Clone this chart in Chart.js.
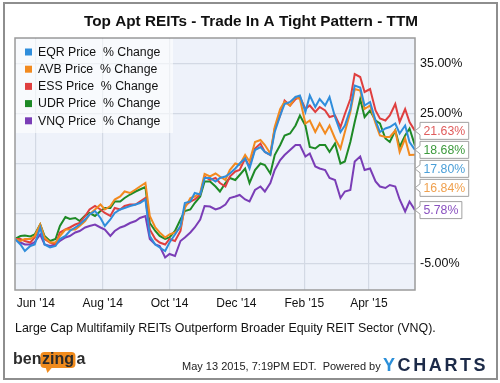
<!DOCTYPE html>
<html><head><meta charset="utf-8">
<script src="https://cdn.jsdelivr.net/npm/chart.js@4.4.1/dist/chart.umd.min.js"></script>
<style>html,body{margin:0;padding:0;background:#fff;}canvas{display:block;}</style>
</head><body>
<canvas id="c" width="500" height="383"></canvas>
<script>
// Days since 2014-05-13 (trailing twelve months)
const dayOffsets = [0,5,9,14,18,23,27,32,37,41,46,50,55,59,64,68,73,78,82,87,91,96,100,105,110,114,119,123,128,132,137,141,146,151,155,160,164,169,173,178,183,187,192,196,201,205,210,214,219,224,228,233,237,242,246,251,256,260,265,269,274,278,283,287,292,297,301,306,310,315,319,324,329,333,338,342,347,351,356,360,365];

const seriesNames = ["EQR Price  % Change","AVB Price  % Change","ESS Price  % Change","UDR Price  % Change","VNQ Price  % Change"];

const eqr = [0,-1.1,-2.4,-1.4,-1.1,2.3,-1.1,-1.7,-1.4,0,0.6,1.6,2.3,2.9,3.9,4.9,5.6,4.2,2.6,3.9,5.2,5.9,6.2,6.6,6.9,7.2,7.9,
  0.6,-1.1,-1.7,-2.4,-0.7,0.9,2.6,7.2,7.5,9.2,8.9,12.2,
  12.2,11.5,12.2,12.5,13.1,14.1,15.1,16.1,14.1,17.8,18.4,17.4,16.8,
  21.4,24.7,27.0,27.4,28.4,28.7,25.4,28.7,26.4,28.0,26.7,28.4,24.4,21.4,22.7,26.0,30.7,30.3,26.7,27.4,23.7,21.4,22.1,22.4,23.1,21.1,22.7,19.4,17.80];

const avb = [0,-0.4,0,0,0.6,2.9,0.3,-0.7,-0.7,0.6,1.9,1.9,1.9,2.6,3.6,4.9,5.9,6.9,5.9,6.6,7.9,8.5,9.5,9.2,9.9,10.5,11.2,
  4.6,2.3,1.3,0.3,0.9,1.3,2.3,6.2,8.2,8.5,9.2,13.0,
  12.5,13.1,12.5,11.8,13.8,15.1,14.8,16.8,15.5,19.4,19.8,18.8,17.1,
  22.4,26.0,27.4,26.7,28.4,28.0,23.1,23.7,21.4,23.1,21.1,22.7,20.1,18.1,21.4,25.4,30.0,29.7,26.0,26.7,23.1,20.7,20.4,20.4,21.7,17.4,20.1,16.8,16.84];

const ess = [0,0,-0.4,-0.7,0.3,2.6,0,-0.7,-1.1,1.3,1.9,2.3,2.9,3.2,4.6,5.9,6.6,5.9,5.2,4.6,6.2,5.9,6.6,6.9,6.9,7.5,8.2,
  1.9,0,-0.7,-1.1,0,-0.4,1.6,6.6,7.5,7.9,8.9,12.5,
  11.8,12.2,11.2,10.5,12.5,13.5,13.8,16.1,14.5,18.1,19.1,17.4,16.8,
  22.1,24.7,27.7,26.7,28.0,28.4,26.0,26.7,25.4,26.4,25.7,24.4,24.7,22.4,25.0,28.0,33.0,32.4,29.4,30.0,25.7,24.1,23.7,24.7,27.0,23.4,26.0,23.4,21.63];

const udr = [0,0.6,0.7,0.5,0.9,2.9,0.6,-0.4,0,2.6,4.4,4.0,4.2,3.6,4.7,5.2,4.6,5.6,6.2,6.2,7.5,7.5,8.2,8.9,9.5,9.9,10.4,
  3.2,1.6,0.6,0,0.3,1.6,3.9,5.6,5.9,7.2,8.5,11.5,
  11.5,10.5,9.5,11.2,12.2,11.8,12.8,14.1,11.2,13.8,15.1,14.8,13.1,
  16.8,18.8,20.7,21.1,22.7,24.7,22.7,18.4,18.1,18.8,18.8,17.4,19.1,15.1,15.5,19.4,23.4,28.0,24.4,25.7,23.7,23.1,20.1,19.4,21.7,18.4,20.7,22.1,18.68];

const vnq = [0,-0.7,-1.1,-1.1,-0.6,0.9,-1.1,-1.4,-1.1,-0.4,0.3,0.6,1.3,1.6,2.3,2.6,2.9,2.3,1.9,0.6,1.6,2.3,2.6,3.2,3.6,4.2,4.6,
  0,-1.1,-1.4,-3.7,-3.0,-3.4,-0.4,0.3,1.3,2.3,3.9,6.6,
  6.5,5.9,6.2,6.9,8.2,8.5,8.8,7.9,7.5,9.8,10.5,9.5,11.2,
  13.8,15.8,16.8,17.8,18.8,18.8,16.5,17.1,14.5,14.1,13.8,12.2,11.8,8.2,9.5,9.8,15.5,16.5,13.8,14.1,11.5,10.5,10.2,10.8,10.5,7.9,5.5,7.5,5.78];

const endLabels = ["17.80%","16.84%","21.63%","18.68%","5.78%"];

const monthTickDays = [19,80,141,202,264,323];
const monthTickLabels = ["Jun '14","Aug '14","Oct '14","Dec '14","Feb '15","Apr '15"];
const yTickValues = [-5,5,15,25,35];
const yTickLabels = ["-5.00%","","","25.00%","35.00%"];

const titleText = "Top Apt REITs - Trade In A Tight Pattern - TTM";
const captionText = "Large Cap Multifamily REITs Outperform Broader Equity REIT Sector (VNQ).";
const footerText = "May 13 2015, 7:19PM EDT.  Powered by";

const lineColors = ['#2f8ddb','#f28a1f','#df3f3f','#1e8a26','#7a3db6'];
const labelColors = ['#4a9fd8','#f0a14f','#e05c5c','#3c9a3c','#8a52c0'];

const FF = '"Liberation Sans", Arial, sans-serif';
const allSeries = [eqr, avb, ess, udr, vnq];

const overlay = {
  id: 'overlay',
  beforeDraw(chart) {
    const {ctx, chartArea: a} = chart;
    ctx.save();
    ctx.fillStyle = '#fff';
    ctx.fillRect(0, 0, chart.width, chart.height);
    ctx.fillStyle = '#eef2fa';
    ctx.fillRect(a.left, a.top, a.right - a.left, a.bottom - a.top);
    ctx.restore();
  },
  afterDraw(chart) {
    const {ctx, chartArea: a, scales} = chart;
    ctx.save();
    // plot border
    ctx.strokeStyle = '#9b9b9b'; ctx.lineWidth = 1.5;
    ctx.strokeRect(a.left, a.top, a.right - a.left, a.bottom - a.top);
    // outer frame
    ctx.strokeStyle = '#8e8e8e'; ctx.lineWidth = 2;
    ctx.strokeRect(4, 3, 493, 376);
    // title
    ctx.fillStyle = '#111';
    ctx.font = 'bold 15.3px ' + FF;
    ctx.textAlign = 'center'; ctx.textBaseline = 'middle';
    ctx.fillText(titleText, 251, 22);
    // legend
    ctx.fillStyle = 'rgba(255,255,255,0.6)';
    ctx.fillRect(a.left + 1, a.top + 1, 157, 94);
    ctx.font = '12.3px ' + FF;
    ctx.textAlign = 'left';
    seriesNames.forEach((n, i) => {
      const y = a.top + 14 + i * 17.2;
      ctx.fillStyle = lineColors[i];
      ctx.fillRect(25, y - 3.5, 7, 7);
      ctx.fillStyle = '#111';
      ctx.fillText(n, 38, y + 0.5);
    });
    // end labels
    const ys = scales.y;
    const items = allSeries.map((s, i) => ({i, v: s[s.length - 1], y: ys.getPixelForValue(s[s.length - 1])}));
    items.sort((p, q) => p.y - q.y);
    for (let k = 1; k < items.length; k++) {
      if (items[k].y < items[k - 1].y + 19) items[k].y = items[k - 1].y + 19;
    }
    ctx.font = '12.3px ' + FF;
    items.forEach(it => {
      const txt = endLabels[it.i];
      const w = ctx.measureText(txt).width + 7;
      const x0 = a.right + 5, tip = a.right, y = it.y, h = 8.5;
      ctx.beginPath();
      ctx.moveTo(x0, y - h); ctx.lineTo(x0 + w, y - h); ctx.lineTo(x0 + w, y + h);
      ctx.lineTo(x0, y + h); ctx.lineTo(x0, y + 4); ctx.lineTo(tip, y); ctx.lineTo(x0, y - 4);
      ctx.closePath();
      ctx.fillStyle = '#fff'; ctx.fill();
      ctx.strokeStyle = '#a0a0a0'; ctx.lineWidth = 1; ctx.stroke();
      ctx.fillStyle = labelColors[it.i];
      ctx.textBaseline = 'middle';
      ctx.fillText(txt, x0 + 3.5, y + 0.5);
    });
    // caption
    ctx.fillStyle = '#111';
    ctx.font = '12.4px ' + FF;
    ctx.textAlign = 'left';
    ctx.fillText(captionText, 15, 329);
    // footer
    ctx.font = '11px ' + FF;
    ctx.fillStyle = '#222';
    ctx.fillText(footerText, 182, 367);
    // YCHARTS
    ctx.font = 'bold 18px ' + FF;
    let x = 383;
    'YCHARTS'.split('').forEach((ch, k) => {
      ctx.fillStyle = k === 0 ? '#2b8fd9' : '#1c2a48';
      ctx.fillText(ch, x, 366);
      x += ctx.measureText(ch).width + 2.6;
    });
    // benzinga logo
    ctx.font = 'bold 16px ' + FF;
    const bw = ctx.measureText('ben').width;
    const zw = ctx.measureText('zing').width;
    ctx.fillStyle = '#f08b1d';
    ctx.beginPath();
    ctx.roundRect(13 + bw - 1, 352, zw + 3, 16, 4);
    ctx.fill();
    ctx.beginPath();
    ctx.moveTo(13 + bw + 4, 367); ctx.lineTo(13 + bw + 6, 373); ctx.lineTo(13 + bw + 11, 367); ctx.closePath();
    ctx.fill();
    ctx.fillStyle = '#2b2b2b';
    ctx.fillText('ben', 13, 360);
    ctx.fillText('zing', 13 + bw + 0.5, 360);
    ctx.fillText('a', 13 + bw + zw + 3, 360);
    ctx.restore();
  }
};

new Chart(document.getElementById('c'), {
  type: 'line',
  data: {
    datasets: allSeries.map((s, i) => ({
      label: seriesNames[i],
      data: s.map((v, k) => ({x: dayOffsets[k], y: v})),
      borderColor: lineColors[i],
      borderWidth: 2,
      pointRadius: 0,
      tension: 0,
      fill: false
    }))
  },
  options: {
    responsive: false,
    animation: false,
    events: [],
    layout: {padding: {left: 15, top: 38, right: 0, bottom: 73}},
    plugins: {legend: {display: false}, tooltip: {enabled: false}},
    scales: {
      x: {
        type: 'linear', min: 0, max: 365,
        afterBuildTicks: s => { s.ticks = monthTickDays.map(v => ({value: v})); },
        afterFit: s => { s.height = 20; },
        grid: {color: '#d3d9e4', drawTicks: false, lineWidth: 1.2},
        border: {display: false},
        ticks: {
          padding: 6, color: '#111', maxRotation: 0, autoSkip: false,
          font: {family: FF, size: 12},
          callback: v => { const k = monthTickDays.indexOf(v); return k >= 0 ? monthTickLabels[k] : ''; }
        }
      },
      y: {
        position: 'right', min: -10.2, max: 40.2,
        afterBuildTicks: s => { s.ticks = yTickValues.map(v => ({value: v})); },
        afterFit: s => { s.width = 85; },
        grid: {color: '#d3d9e4', drawTicks: false, lineWidth: 1.2},
        border: {display: false},
        ticks: {
          padding: 5, color: '#111',
          font: {family: FF, size: 12.5},
          callback: v => { const k = yTickValues.indexOf(v); return k >= 0 ? yTickLabels[k] : ''; }
        }
      }
    }
  },
  plugins: [overlay]
});
</script>
</body></html>
